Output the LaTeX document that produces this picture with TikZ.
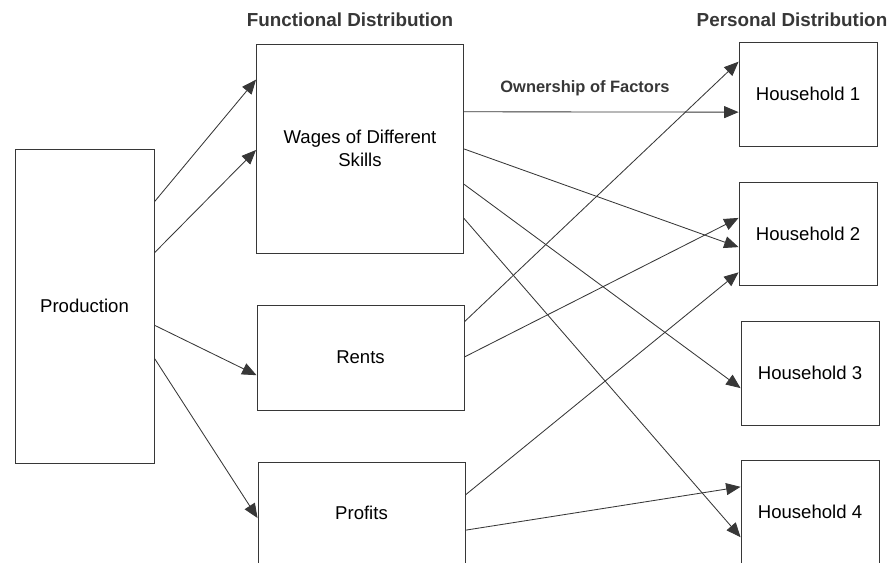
\documentclass[tikz,border=0pt]{standalone}
\usepackage{fontspec}
\setmainfont{Liberation Sans}
\usetikzlibrary{arrows.meta,positioning,calc}
\definecolor{inkgray}{RGB}{55,55,55}

\tikzset{
    boxnode/.style={draw=inkgray, line width=0.6pt, inner sep=2pt, align=center,
        font=\fontsize{13.2}{16}\selectfont},
    flow/.style={draw=inkgray, line width=0.6pt,
        -{Triangle[length=0.36cm, width=0.3cm]}},
    heading/.style={font=\fontsize{13.4}{16}\selectfont\bfseries, text=inkgray}
}

\begin{document}
\begin{tikzpicture}[x=0.025cm, y=-0.025cm]
    \useasboundingbox (0,0) rectangle (890,562);

    % titles
    \node[heading] (funct) at (350,20) {Functional Distribution};
    \node[heading] (pers) at (792,20) {Personal Distribution};
    \node[heading, font=\fontsize{11.7}{14}\selectfont\bfseries] (own) at (585,88) {Ownership of Factors};

    % boxes
    \node[boxnode, minimum width=3.475cm, minimum height=7.85cm] (prod) at (84.5,306) {Production};
    \node[boxnode, minimum width=5.175cm, minimum height=5.225cm] (wages) at (360,148.5) {Wages of Different\\Skills};
    \node[boxnode, minimum width=5.175cm, minimum height=2.625cm] (rents) at (360.5,357.5) {Rents};
    \node[boxnode, minimum width=5.175cm, minimum height=2.55cm] (profits) at (361.5,513) {Profits};

    \node[boxnode, minimum width=3.45cm, minimum height=2.6cm] (hh1) at (808,94) {Household 1};
    \node[boxnode, minimum width=3.45cm, minimum height=2.575cm] (hh2) at (808,233.5) {Household 2};
    \node[boxnode, minimum width=3.45cm, minimum height=2.6cm] (hh3) at (810,373) {Household 3};
    \node[boxnode, minimum width=3.45cm, minimum height=2.6cm] (hh4) at (810,512) {Household 4};

    % production to functional shares
    \draw[flow] ($(prod.north east)!0.169!(prod.south east)$) -- ($(wages.north west)!0.172!(wages.south west)$);
    \draw[flow] ($(prod.north east)!0.331!(prod.south east)$) -- ($(wages.north west)!0.507!(wages.south west)$);
    \draw[flow] ($(prod.north east)!0.561!(prod.south east)$) -- ($(rents.north west)!0.667!(rents.south west)$);
    \draw[flow] ($(prod.north east)!0.666!(prod.south east)$) -- ($(profits.north west)!0.549!(profits.south west)$);

    % wages to households
    \draw[flow] ($(wages.north east)!0.325!(wages.south east)$) -- ($(hh1.north west)!0.673!(hh1.south west)$);
    \draw[flow] ($(wages.north east)!0.502!(wages.south east)$) -- ($(hh2.north west)!0.631!(hh2.south west)$);
    \draw[flow] ($(wages.north east)!0.670!(wages.south east)$) -- ($(hh3.north west)!0.644!(hh3.south west)$);
    \draw[flow] ($(wages.north east)!0.833!(wages.south east)$) -- ($(hh4.north west)!0.740!(hh4.south west)$);

    % rents to households
    \draw[flow] ($(rents.north east)!0.162!(rents.south east)$) -- ($(hh1.north west)!0.192!(hh1.south west)$);
    \draw[flow] ($(rents.north east)!0.495!(rents.south east)$) -- ($(hh2.north west)!0.350!(hh2.south west)$);

    % profits to households
    \draw[flow] ($(profits.north east)!0.324!(profits.south east)$) -- ($(hh2.north west)!0.874!(hh2.south west)$);
    \draw[flow] ($(profits.north east)!0.667!(profits.south east)$) -- ($(hh4.north west)!0.260!(hh4.south west)$);
\end{tikzpicture}
\end{document}
